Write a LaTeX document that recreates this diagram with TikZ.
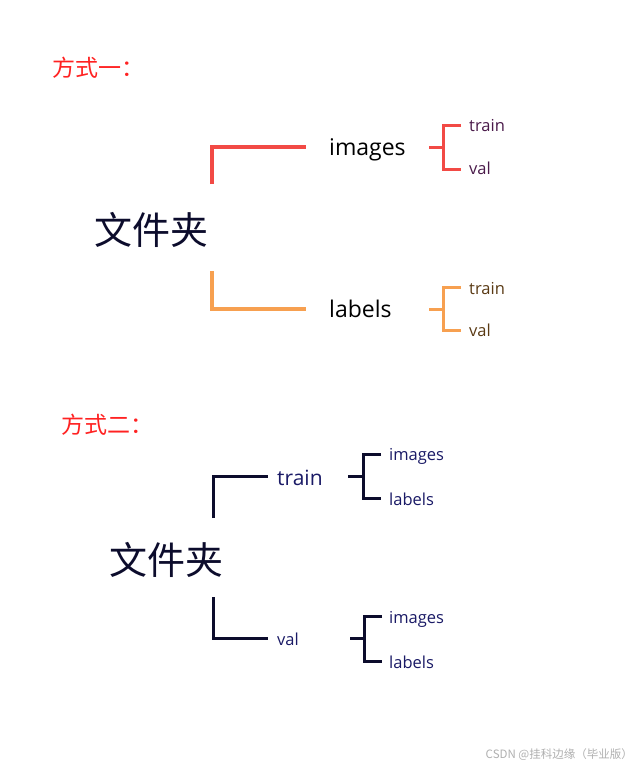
\documentclass[tikz,border=0pt]{standalone}
\usepackage{fontspec}
\setmainfont{Open Sans}
\newfontfamily\cjk{Noto Sans CJK SC}
\definecolor{tred}{HTML}{FF2222}
\definecolor{bred}{HTML}{F24A45}
\definecolor{borg}{HTML}{F7A050}
\definecolor{dnavy}{HTML}{0C0C2C}
\definecolor{tnavy}{HTML}{1A1A66}
\definecolor{tpurp}{HTML}{4A1A4A}
\definecolor{tbrown}{HTML}{5A3A14}
\definecolor{wgray}{HTML}{B0B0B0}
\tikzset{
  txt/.style={inner sep=0pt, anchor=mid west},
  big/.style={txt, font=\fontsize{23bp}{26bp}\selectfont},
  mid/.style={txt, font=\fontsize{21bp}{24bp}\selectfont},
  small/.style={txt, font=\fontsize{16.5bp}{19bp}\selectfont},
  head/.style={inner sep=0pt, anchor=west, text=tred, font=\cjk\fontsize{23bp}{26bp}\selectfont},
  root/.style={inner sep=0pt, anchor=west, text=dnavy, font=\cjk\fontsize{38bp}{41bp}\selectfont},
  thick4/.style={line width=3.5bp, line cap=butt, line join=miter},
  thick3/.style={line width=3bp, line cap=butt, line join=miter},
}
\begin{document}
\begin{tikzpicture}[x=1bp, y=-1bp]
\useasboundingbox (0,0) rectangle (636,767);
\fill[white] (0,0) rectangle (636,767);

% ---------- section 1 ----------
\node[head] (h1) at (52,68) {方式一：};
\node[root] (r1) at (94,230) {文件夹};

\coordinate (a1) at (212,184);
\coordinate (a2) at (212,147);
\coordinate (a3) at (306,147);
\draw[thick4, bred] (a1) -- (a2) -- (a3);
\node[big] (img1) at (329,153) {images};

\coordinate (b1) at (212,271);
\coordinate (b2) at (212,309);
\coordinate (b3) at (306,309);
\draw[thick4, borg] (b1) -- (b2) -- (b3);
\node[big] (lab1) at (329,315) {labels};

% small bracket images
\coordinate (c0) at (429,147);
\coordinate (c1) at (443,147);
\coordinate (c2) at (443,125);
\coordinate (c3) at (461,125);
\coordinate (c4) at (443,169);
\coordinate (c5) at (461,169);
\draw[thick3, bred] (c0) -- (c1);
\draw[thick3, bred] (c3) -- (c2) -- (c4) -- (c5);
\node[small, text=tpurp] (tr1) at (469,129) {train};
\node[small, text=tpurp] (va1) at (469,172) {val};

% small bracket labels
\coordinate (d0) at (429,309);
\coordinate (d1) at (443,309);
\coordinate (d2) at (443,287);
\coordinate (d3) at (461,287);
\coordinate (d4) at (443,330);
\coordinate (d5) at (461,330);
\draw[thick3, borg] (d0) -- (d1);
\draw[thick3, borg] (d3) -- (d2) -- (d4) -- (d5);
\node[small, text=tbrown] (tr2) at (469,292) {train};
\node[small, text=tbrown] (va2) at (469,334) {val};

% ---------- section 2 ----------
\node[head] (h2) at (61,425) {方式二：};
\node[root] (r2) at (109,560) {文件夹};

\coordinate (e1) at (213,518);
\coordinate (e2) at (213,476);
\coordinate (e3) at (268,476);
\draw[thick3, dnavy] (e1) -- (e2) -- (e3);
\node[mid, text=tnavy] (tr3) at (277,483) {train};

\coordinate (f0) at (348,476);
\coordinate (f1) at (363,476);
\coordinate (f2) at (363,454);
\coordinate (f3) at (381,454);
\coordinate (f4) at (363,498);
\coordinate (f5) at (381,498);
\draw[thick3, dnavy] (f0) -- (f1);
\draw[thick3, dnavy] (f3) -- (f2) -- (f4) -- (f5);
\node[small, text=tnavy] (im3) at (389,458) {images};
\node[small, text=tnavy] (lb3) at (389,503) {labels};

\coordinate (g1) at (213,597);
\coordinate (g2) at (213,638);
\coordinate (g3) at (268,638);
\draw[thick3, dnavy] (g1) -- (g2) -- (g3);
\node[small, text=tnavy] (va3) at (277,643) {val};

\coordinate (k0) at (350,638);
\coordinate (k1) at (364,638);
\coordinate (k2) at (364,616);
\coordinate (k3) at (382,616);
\coordinate (k4) at (364,661);
\coordinate (k5) at (382,661);
\draw[thick3, dnavy] (k0) -- (k1);
\draw[thick3, dnavy] (k3) -- (k2) -- (k4) -- (k5);
\node[small, text=tnavy] (im4) at (389,621) {images};
\node[small, text=tnavy] (lb4) at (389,666) {labels};

% watermark
\node[inner sep=0pt, anchor=east, text=wgray, font=\cjk\fontsize{11.5bp}{13bp}\selectfont] (wm) at (633,755) {CSDN @挂科边缘（毕业版）};
\end{tikzpicture}
\end{document}
